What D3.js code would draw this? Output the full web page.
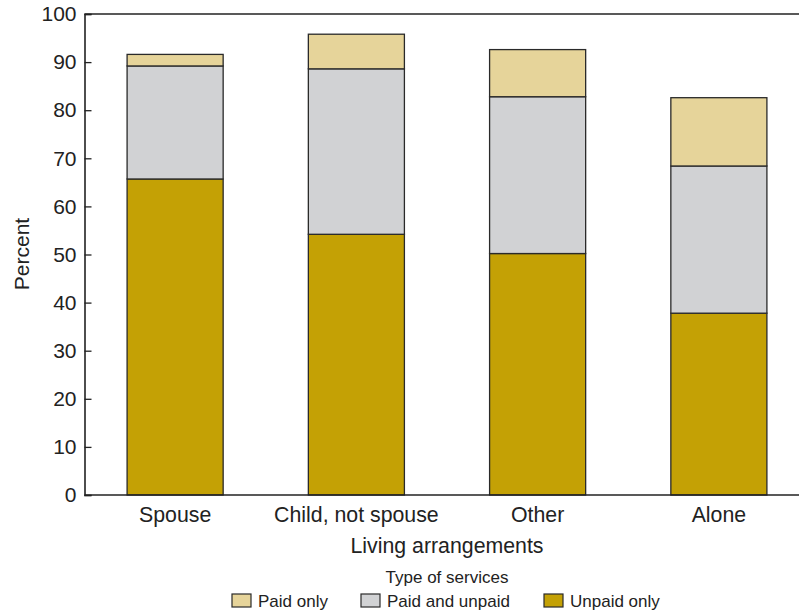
<!DOCTYPE html>
<html><head><meta charset="utf-8">
<script src="https://cdn.jsdelivr.net/npm/d3@7"></script>
<style>body{margin:0;background:#fff}svg{display:block;font-family:"Liberation Sans",Arial,sans-serif}</style>
</head><body>
<svg id="c" width="799" height="614"></svg>
<script>
const categories = ["Spouse", "Child, not spouse", "Other", "Alone"];
const seriesNames = ["Unpaid only", "Paid and unpaid", "Paid only"];
const unpaidOnly = [65.7, 54.2, 50.2, 37.8];
const paidAndUnpaid = [23.5, 34.4, 32.6, 30.6];
const paidOnly = [2.4, 7.2, 9.8, 14.2];
const yTicks = [0, 10, 20, 30, 40, 50, 60, 70, 80, 90, 100];
const legendOrder = ["Paid only", "Paid and unpaid", "Unpaid only"];
const colors = {"Unpaid only": "#C4A105", "Paid and unpaid": "#D1D2D4", "Paid only": "#E6D49A"};

const svg = d3.select("#c");
const x0 = 84.5, yTop = 14, yBottom = 495;
const x = d3.scaleBand().domain(categories).range([x0, 809.5]).paddingInner(0.47).paddingOuter(0.235);
const y = d3.scaleLinear().domain([0, 100]).range([yBottom, yTop]);

const rows = categories.map((c, i) => ({cat: c, "Unpaid only": unpaidOnly[i], "Paid and unpaid": paidAndUnpaid[i], "Paid only": paidOnly[i]}));
const stacked = d3.stack().keys(seriesNames)(rows);

const g = svg.append("g");
stacked.forEach(layer => {
  g.selectAll(null).data(layer).enter().append("rect")
    .attr("x", d => x(d.data.cat))
    .attr("width", x.bandwidth())
    .attr("y", d => y(d[1]))
    .attr("height", d => y(d[0]) - y(d[1]))
    .attr("fill", colors[layer.key])
    .attr("stroke", "#2a2a2a")
    .attr("stroke-width", 1.3);
});

svg.append("line").attr("x1", x0).attr("x2", 799).attr("y1", yTop).attr("y2", yTop).attr("stroke", "#222").attr("stroke-width", 1.6);
svg.append("line").attr("x1", x0).attr("x2", 799).attr("y1", yBottom).attr("y2", yBottom).attr("stroke", "#222").attr("stroke-width", 1.6);

const yAxis = d3.axisLeft(y).tickValues(yTicks).tickSize(-7).tickPadding(8);
const ya = svg.append("g").attr("transform", `translate(${x0},0)`).call(yAxis);
ya.select(".domain").attr("stroke", "#222").attr("stroke-width", 1.6);
ya.selectAll(".tick line").attr("stroke", "#222").attr("stroke-width", 1.3);
ya.selectAll(".tick text").attr("font-size", 21).attr("fill", "#222").attr("font-family", "Liberation Sans, Arial, sans-serif");

const xAxis = d3.axisBottom(x).tickSize(0).tickPadding(12);
const xa = svg.append("g").attr("transform", `translate(0,${yBottom})`).call(xAxis);
xa.select(".domain").remove();
xa.selectAll(".tick text").attr("font-size", 21.3).attr("fill", "#222").attr("font-family", "Liberation Sans, Arial, sans-serif");

svg.append("text").attr("x", 447).attr("y", 553).attr("text-anchor", "middle").attr("font-size", 21.3).attr("fill", "#222").text("Living arrangements");
svg.append("text").attr("transform", "translate(29,254) rotate(-90)").attr("text-anchor", "middle").attr("font-size", 21).attr("fill", "#222").text("Percent");

svg.append("text").attr("x", 447).attr("y", 583).attr("text-anchor", "middle").attr("font-size", 17).attr("fill", "#222").text("Type of services");
const legX = [232, 361, 544];
legendOrder.forEach((k, i) => {
  svg.append("rect").attr("x", legX[i]).attr("y", 594).attr("width", 19).attr("height", 13)
    .attr("fill", colors[k]).attr("stroke", "#2a2a2a").attr("stroke-width", 1.2);
  svg.append("text").attr("x", legX[i] + 26).attr("y", 606.5).attr("font-size", 17).attr("fill", "#222").text(k);
});
</script>
</body></html>
